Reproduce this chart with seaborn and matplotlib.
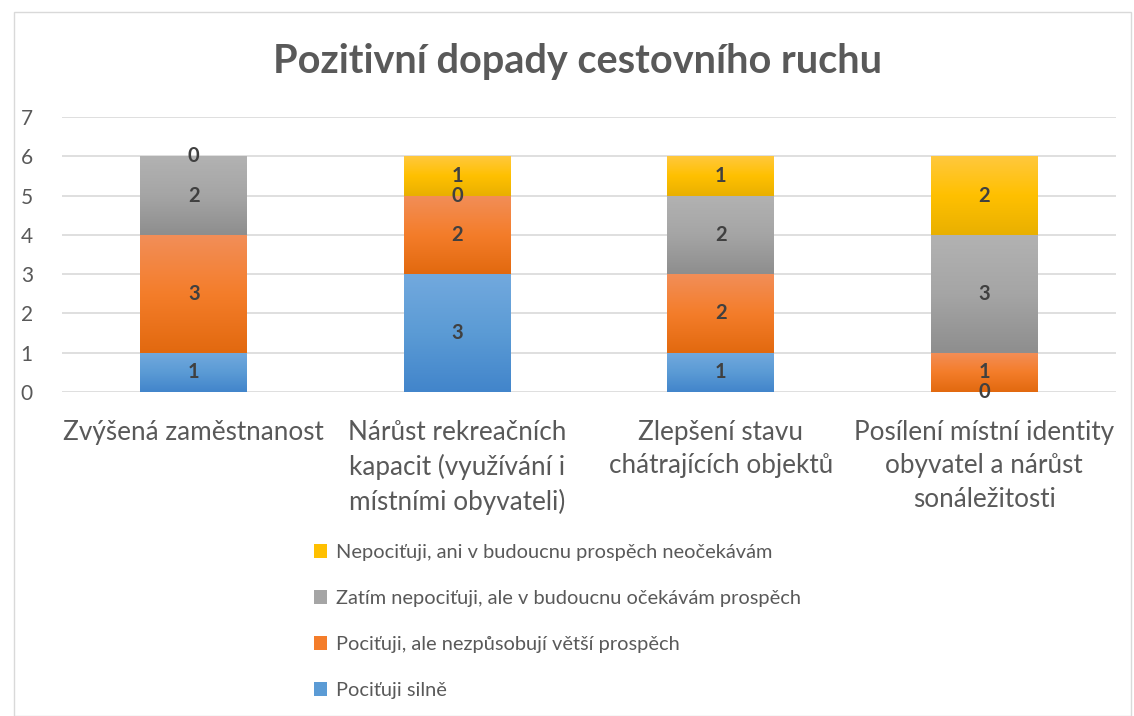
import numpy as np
import pandas as pd
import matplotlib
matplotlib.use("Agg")
import matplotlib.pyplot as plt
import seaborn as sns
from matplotlib.colors import LinearSegmentedColormap
from matplotlib.patches import Rectangle, Patch

categories = [
    "Zvýšená zaměstnanost",
    "Nárůst rekreačních\nkapacit (využívání i\nmístními obyvateli)",
    "Zlepšení stavu\nchátrajících objektů",
    "Posílení místní identity\nobyvatel a nárůst\nsonáležitosti",
]
series_names = [
    "Pociťuji silně",
    "Pociťuji, ale nezpůsobují větší prospěch",
    "Zatím nepociťuji, ale v budoucnu očekávám prospěch",
    "Nepociťuji, ani v budoucnu prospěch neočekávám",
]
silne = [1, 3, 1, 0]
ale_nezpusobuji = [3, 2, 2, 1]
zatim_nepocituji = [2, 0, 2, 3]
nepocituji = [0, 1, 1, 2]
values = [silne, ale_nezpusobuji, zatim_nepocituji, nepocituji]
yticks = [0, 1, 2, 3, 4, 5, 6, 7]

# gradient colours (top, middle, bottom) per series
grads = [
    ("#72a9de", "#5b9bd5", "#4285cb"),
    ("#f28e58", "#f47d2a", "#e2690f"),
    ("#b2b2b2", "#a5a5a5", "#8e8e8e"),
    ("#ffc83d", "#ffc000", "#e9b000"),
]
base_colors = [g[1] for g in grads]

sns.set_style("white")
plt.rcParams["font.family"] = ["Lato", "DejaVu Sans"]

fig = plt.figure(figsize=(11.34, 7.16), dpi=100)
ax = fig.add_axes([62 / 1134, 1 - 392 / 716, (1116 - 62) / 1134, (392 - 117) / 716])

df = pd.DataFrame({"cat": categories})
bottom = np.zeros(len(categories))
containers = []
for name, vals, col in zip(series_names, values, base_colors):
    df["v"] = vals
    sns.barplot(data=df, x="cat", y="v", color=col, width=0.405, bottom=bottom,
                ax=ax, errorbar=None, saturation=1, linewidth=0, zorder=3)
    containers.append(ax.containers[-1])
    bottom = bottom + np.array(vals)

# gradient fill for each bar segment
for cont, g in zip(containers, grads):
    cmap = LinearSegmentedColormap.from_list("g", [g[2], g[1], g[0]])
    for p in cont.patches:
        x0, y0 = p.get_x(), p.get_y()
        w, h = p.get_width(), p.get_height()
        if h <= 0:
            continue
        grad = np.linspace(0, 1, 100).reshape(-1, 1)
        ax.imshow(grad, cmap=cmap, origin="lower", aspect="auto",
                  extent=[x0, x0 + w, y0, y0 + h], zorder=3.5, interpolation="bicubic")
        p.set_facecolor("none")

for cont in containers:
    ax.bar_label(cont, label_type="center", fontsize=14.5, fontweight="bold",
                 color="#404040", zorder=5)

ax.set_xlim(-0.5, 3.5)
ax.set_ylim(0, 7)
ax.set_yticks(yticks)
ax.set_yticklabels([str(t) for t in yticks], fontsize=15, color="#595959")
ax.grid(axis="y", color="#d9d9d9", linewidth=1.2, zorder=0)
ax.set_axisbelow(True)
ax.tick_params(axis="both", length=0)
ax.tick_params(axis="y", pad=21)
ax.tick_params(axis="x", pad=20)
ax.set_xticks(range(len(categories)))
ax.set_xticklabels(categories, fontsize=18.8, color="#595959", linespacing=1.42, va="top")
ax.set_xlabel("")
ax.set_ylabel("")
for s in ax.spines.values():
    s.set_visible(False)
if ax.get_legend():
    ax.get_legend().remove()

fig.text(577 / 1134, 1 - 62 / 716, "Pozitivní dopady cestovního ruchu",
         ha="center", va="center", fontsize=28.5, fontweight="bold", color="#595959")

handles = [Patch(facecolor=c, edgecolor="none") for c in base_colors]
leg = fig.legend(handles[::-1], series_names[::-1], loc="upper left",
                 bbox_to_anchor=(296 / 1134, 1 - 526 / 716), frameon=False,
                 fontsize=14.4, labelcolor="#595959", labelspacing=1.45,
                 handlelength=0.65, handleheight=0.65, handletextpad=0.45)

fig.patches.append(Rectangle((14 / 1134, 0), (1131 - 14) / 1134, 1 - 12 / 716,
                             transform=fig.transFigure, fill=False,
                             edgecolor="#d9d9d9", linewidth=1))

fig.savefig("out.png", dpi=100)
